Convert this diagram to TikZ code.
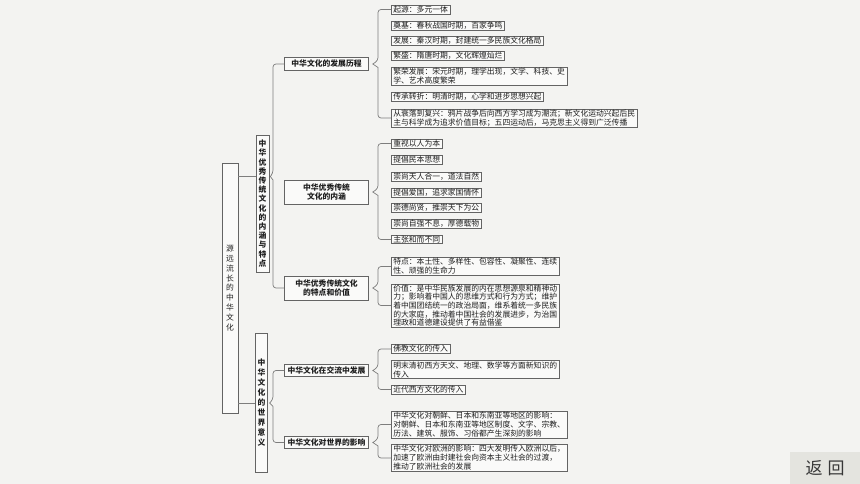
\documentclass[tikz,border=0pt]{standalone}
\usepackage{fontspec}
\setmainfont{Liberation Serif}
\newfontfamily\cjk{Noto Sans CJK SC}
\usetikzlibrary{calc}
\definecolor{bgc}{RGB}{243,243,241}
\definecolor{linec}{RGB}{125,125,125}
\definecolor{boxc}{RGB}{100,100,100}
\definecolor{txtc}{RGB}{30,30,30}
\definecolor{btnc}{RGB}{228,228,223}
\begin{document}
\begin{tikzpicture}[x=1pt,y=-1pt,
 leaf/.style={draw=boxc, line width=0.6pt, fill=white!55!bgc, anchor=west, align=left,
   inner xsep=2pt, inner ysep=0.7pt, font=\cjk\fontsize{7.8}{9.0}\selectfont, text=txtc},
 midbox/.style={draw=boxc, line width=0.7pt, fill=white!55!bgc, align=center, minimum width=84pt,
   inner sep=1pt, font=\cjk\bfseries\fontsize{7.8}{9.6}\selectfont, text=txtc},
 vbox/.style={draw=boxc, line width=0.7pt, fill=white!55!bgc, align=center, inner sep=0pt, text=txtc},
 brace/.style={draw=linec, line width=0.7pt, rounded corners=3pt},
 conn/.style={draw=linec, line width=0.7pt},
 btn/.style={fill=btnc, minimum width=70pt, minimum height=32pt, inner sep=0pt,
   font=\cjk\fontsize{17}{17}\selectfont, text={rgb,255:red,55;green,55;blue,55}}]
\fill[bgc] (0,0) rectangle (860,484);
\useasboundingbox (0,0) rectangle (860,484);

% root and level-1 vertical boxes
\node[vbox, minimum width=16pt, minimum height=250pt, font=\cjk\fontsize{7.8}{9.8}\selectfont]
  (root) at (230,288) {源\\远\\流\\长\\的\\中\\华\\文\\化};
\node[vbox, minimum width=13pt, minimum height=137pt, font=\cjk\bfseries\fontsize{7.8}{9.2}\selectfont]
  (vb2) at (262.5,203.5) {中\\华\\优\\秀\\传\\统\\文\\化\\的\\内\\涵\\与\\特\\点};
\node[vbox, minimum width=11.5pt, minimum height=139pt, font=\cjk\bfseries\fontsize{7.8}{10}\selectfont]
  (vb3) at (261.5,402.5) {中\\华\\文\\化\\的\\世\\界\\意\\义};

% level-2 boxes
\node[midbox, minimum height=13pt] (pA) at (326.5,64) {中华文化的发展历程};
\node[midbox, minimum height=24pt] (pB) at (326.5,192) {中华优秀传统\\文化的内涵};
\node[midbox, minimum height=24pt] (pC) at (326.5,288) {中华优秀传统文化\\的特点和价值};
\node[midbox, minimum height=12pt] (pD) at (326.5,370.5) {中华文化在交流中发展};
\node[midbox, minimum height=12pt] (pE) at (326.5,442.5) {中华文化对世界的影响};

% leaves A
\node[leaf] (a1) at (391,9.5) {起源：多元一体};
\node[leaf] (a2) at (391,25.5) {奠基：春秋战国时期，百家争鸣};
\node[leaf] (a3) at (391,40.5) {发展：秦汉时期，封建统一多民族文化格局};
\node[leaf] (a4) at (391,55.5) {繁盛：隋唐时期，文化辉煌灿烂};
\node[leaf] (a5) at (391,76.5) {繁荣发展：宋元时期，理学出现，文学、科技、史\\学、艺术高度繁荣};
\node[leaf] (a6) at (391,96.5) {传承转折：明清时期，心学和进步思想兴起};
\node[leaf] (a7) at (391,118) {从衰落到复兴：鸦片战争后向西方学习成为潮流；新文化运动兴起后民\\主与科学成为追求价值目标；五四运动后，马克思主义得到广泛传播};

% leaves B
\node[leaf] (nb1) at (391,143.5) {重视以人为本};
\node[leaf] (nb2) at (391,160) {提倡民本思想};
\node[leaf] (nb3) at (391,176.5) {崇尚天人合一，道法自然};
\node[leaf] (nb4) at (391,192.5) {提倡爱国，追求家国情怀};
\node[leaf] (nb5) at (391,207.5) {崇德尚贤，推崇天下为公};
\node[leaf] (nb6) at (391,223.5) {崇尚自强不息，厚德载物};
\node[leaf] (nb7) at (391,239.5) {主张和而不同};

% leaves C
\node[leaf] (c1) at (391,266.5) {特点：本土性、多样性、包容性、凝聚性、连续\\性、顽强的生命力};
\node[leaf, font=\cjk\fontsize{7.8}{8.6}\selectfont] (c2) at (391,305.5) {价值：是中华民族发展的内在思想源泉和精神动\\力；影响着中国人的思维方式和行为方式；维护\\着中国团结统一的政治局面，维系着统一多民族\\的大家庭，推动着中国社会的发展进步，为治国\\理政和道德建设提供了有益借鉴};

% leaves D
\node[leaf] (d1) at (391,349) {佛教文化的传入};
\node[leaf] (d2) at (391,369.5) {明末清初西方天文、地理、数学等方面新知识的\\传入};
\node[leaf] (d3) at (391,389.5) {近代西方文化的传入};

% leaves E
\node[leaf] (e1) at (391,424.5) {中华文化对朝鲜、日本和东南亚等地区的影响：\\对朝鲜、日本和东南亚等地区制度、文字、宗教、\\历法、建筑、服饰、习俗都产生深刻的影响};
\node[leaf] (e2) at (391,458) {中华文化对欧洲的影响：四大发明传入欧洲以后，\\加速了欧洲由封建社会向资本主义社会的过渡，\\推动了欧洲社会的发展};

% coordinates
\coordinate (j1) at (0,176.5);
\coordinate (j2) at (0,403);
\coordinate (v2) at (273,0);
\coordinate (v3) at (378,0);

% root connectors
\draw[conn] (root.east |- j1) -- (vb2.west |- j1);
\draw[conn] (root.east |- j2) -- (vb3.west |- j2);

% level-1 braces
\draw[brace] (pA.west) -- (pA.west -| v2) -- ($(j1 -| v2)+(0,-3.5)$)
  [sharp corners] -- ($(j1 -| vb2.east)+(1,0)$) -- ($(j1 -| v2)+(0,3.5)$)
  [rounded corners=3pt] -- (pC.west -| v2) -- (pC.west);
\draw[brace] (pD.west) -- (pD.west -| v2) -- ($(j2 -| v2)+(0,-3.5)$)
  [sharp corners] -- ($(j2 -| vb3.east)+(2,0)$) -- ($(j2 -| v2)+(0,3.5)$)
  [rounded corners=3pt] -- (pE.west -| v2) -- (pE.west);

% level-2 braces
\foreach \p/\f/\l in {pA/a1/a7, pB/nb1/nb7, pC/c1/c2, pD/d1/d3, pE/e1/e2}{
  \draw[brace] (\f.west) -- (\f.west -| v3) -- ($(\p.east -| v3)+(0,-3.5)$)
    [sharp corners] -- ($(\p.east)+(4,0)$) -- ($(\p.east -| v3)+(0,3.5)$)
    [rounded corners=3pt] -- (\l.west -| v3) -- (\l.west);
}

% back button
\node[btn] (back) at (825,468) {返\hspace{5pt}回};
\end{tikzpicture}
\end{document}
